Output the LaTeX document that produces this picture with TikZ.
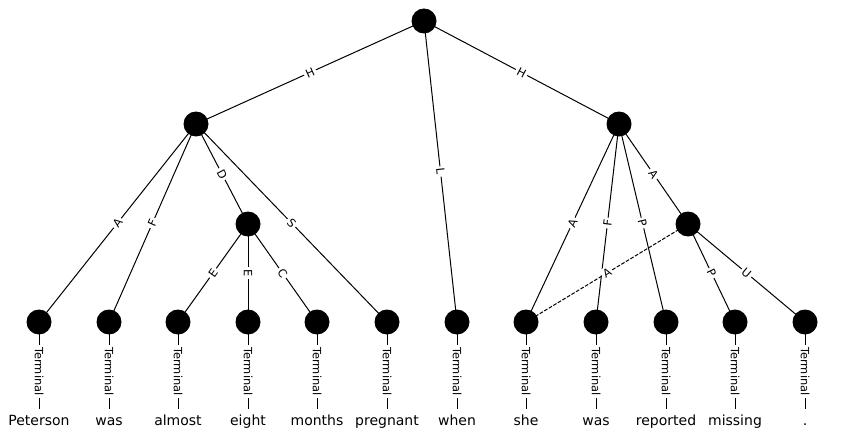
\documentclass[tikz,border=0pt]{standalone}
\usepackage{fontspec}
\setmainfont{DejaVu Sans}
\usetikzlibrary{backgrounds}
\begin{document}
\begin{tikzpicture}[x=1pt,y=-1pt,
  unit/.style={circle,fill=black,draw=none,minimum size=25pt,inner sep=0pt},
  word/.style={fill=white,inner sep=0pt,minimum height=24pt,text height=9pt,text depth=0pt,font=\fontsize{14}{16}\selectfont},
  elabel/.style={midway,sloped,fill=white,inner sep=2pt,font=\fontsize{11.4}{13}\selectfont},
  edge/.style={line width=1pt},
  remote/.style={line width=1pt,dash pattern=on 3.7pt off 1.6pt}]
\useasboundingbox (0,0) rectangle (844,444);
% non-terminal units
\node[unit] (root) at (424,21) {};
\node[unit] (p1) at (196,124) {};
\node[unit] (p2) at (619,124) {};
\node[unit] (d1) at (248,224) {};
\node[unit] (a1) at (688,224) {};
% terminal units and their words
\foreach \i/\x/\w in {1/39/Peterson,2/109/was,3/178/almost,4/248/eight,5/317/months,6/387/pregnant,7/457/when,8/526/she,9/596/was,10/666/reported,11/735/missing,12/805/.}{
  \node[unit] (t\i) at (\x,322) {};
  \node[word] (w\i) at (\x,421) {\w};
}
\begin{scope}[on background layer]
  \foreach \i in {1,...,12}{
    \draw[edge] (t\i.center) -- (w\i.center) node[elabel] {Terminal};
  }
  \draw[edge] (root.center) -- (p1.center) node[elabel] {H};
  \draw[edge] (root.center) -- (t7.center) node[elabel] {L};
  \draw[edge] (root.center) -- (p2.center) node[elabel] {H};
  \draw[edge] (p1.center) -- (t1.center) node[elabel] {A};
  \draw[edge] (p1.center) -- (t2.center) node[elabel] {F};
  \draw[edge] (p1.center) -- (d1.center) node[elabel] {D};
  \draw[edge] (p1.center) -- (t6.center) node[elabel] {S};
  \draw[edge] (d1.center) -- (t3.center) node[elabel] {E};
  \draw[edge] (d1.center) -- (t4.center) node[elabel] {E};
  \draw[edge] (d1.center) -- (t5.center) node[elabel] {C};
  \draw[edge] (p2.center) -- (t8.center) node[elabel] {A};
  \draw[edge] (p2.center) -- (t9.center) node[elabel] {F};
  \draw[edge] (p2.center) -- (t10.center) node[elabel] {P};
  \draw[edge] (p2.center) -- (a1.center) node[elabel] {A};
  \draw[remote] (a1.center) -- (t8.center) node[elabel] {A};
  \draw[edge] (a1.center) -- (t11.center) node[elabel] {P};
  \draw[edge] (a1.center) -- (t12.center) node[elabel] {U};
\end{scope}
\end{tikzpicture}
\end{document}
